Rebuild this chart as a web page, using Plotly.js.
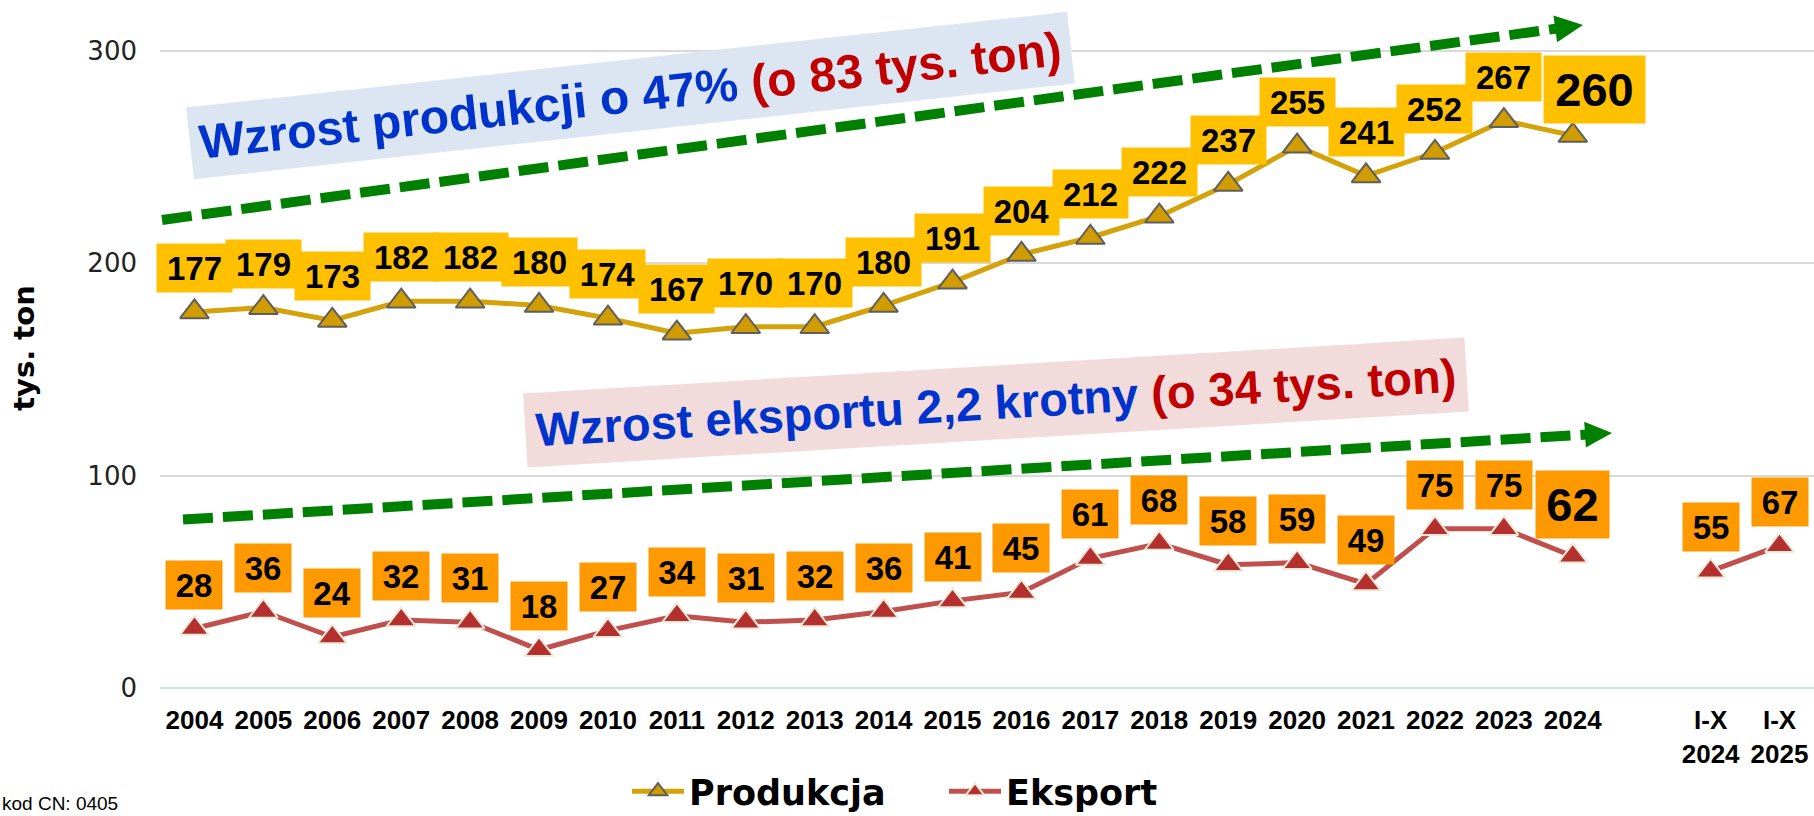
<!DOCTYPE html>
<html><head><meta charset="utf-8">
<script src="https://cdn.plot.ly/plotly-3.0.1.min.js"></script>
<style>html,body{margin:0;padding:0;background:#fff;}#chart{width:1814px;height:816px;}</style>
</head><body><div id="chart"></div>
<script>
// ---- data ----
const categories = ['2004','2005','2006','2007','2008','2009','2010','2011','2012','2013','2014',
  '2015','2016','2017','2018','2019','2020','2021','2022','2023','2024',' ','I-X<br>2024','I-X<br>2025'];
const production = [177,179,173,182,182,180,174,167,170,170,180,191,204,212,222,237,255,241,252,267,260,null,null,null];
const exportVals = [28,36,24,32,31,18,27,34,31,32,36,41,45,61,68,58,59,49,75,75,62,null,55,67];
const seriesNames = ['Produkcja','Eksport'];
const yTicks = [0,100,200,300];
const yTitle = 'tys. ton';
const prodGrowthBlue = 'Wzrost produkcji o 47% ';
const prodGrowthRed = '(o 83 tys. ton)';
const expGrowthBlue = 'Wzrost eksportu 2,2 krotny ';
const expGrowthRed = '(o 34 tys. ton)';
const sourceNote = 'kod CN: 0405';
const highlightCat = '2024';

// ---- geometry / style ----
const FW = 1814, FH = 816;
const M = {l:160, r:0, t:8, b:128, autoexpand:false};
const PW = FW - M.l - M.r, PH = FH - M.t - M.b;
const px = x => (x - M.l) / PW;
const py = y => (FH - M.b - y) / PH;
const LBL = 'Liberation Sans, Arial, sans-serif';
const DJ = 'DejaVu Sans, Verdana, sans-serif';
const BLUE = '#0033CC', RED = '#C00000', GREEN = '#008000';

const hl = categories.indexOf(highlightCat);

const traces = [
  {type:'scatter', mode:'lines+markers', name:seriesNames[0], x:categories, y:production,
   connectgaps:false, cliponaxis:false,
   line:{color:'#D4A20A', width:5},
   marker:{symbol:'triangle-up', size:25, color:'#D09C00', line:{color:'#5E5E5E', width:2}}},
  {type:'scatter', mode:'lines+markers', name:seriesNames[1], x:categories, y:exportVals,
   connectgaps:false, cliponaxis:false,
   line:{color:'#C0504D', width:5},
   marker:{symbol:'triangle-up', size:25, color:'#B3302E', line:{color:'#EEEADA', width:2}}}
];

const annotations = [];
function addLabels(vals, bg, w, wBig, xshiftBig, yshift, yshiftBig){
  vals.forEach((v,i)=>{
    if(v === null) return;
    const big = (i === hl);
    annotations.push({x:i, y:v, xref:'x', yref:'y', text:String(v), showarrow:false,
      xanchor:'center', yanchor:'middle',
      xshift: big ? xshiftBig : 0, yshift: big ? yshiftBig : yshift,
      bgcolor:bg, borderpad:0, width: big ? wBig : w, height: big ? 67 : 48,
      font:{family:LBL, size: big ? 47 : 33, color:'#000', weight:700}});
  });
}
addLabels(production, '#FFC000', 75, 101, 22, 44, 46);
addLabels(exportVals, '#FF9900', 56, 73, 0, 44, 52);

// growth annotations (rotated boxes)
annotations.push({xref:'paper', yref:'paper', x:px(630.5), y:py(95.7), xanchor:'center', yanchor:'middle',
  showarrow:false, textangle:-6.2, bgcolor:'#DCE6F2', borderpad:9,
  text: prodGrowthBlue + '<span style="color:' + RED + '">' + prodGrowthRed + '</span>',
  font:{family:LBL, size:48, color:BLUE, weight:700}});
annotations.push({xref:'paper', yref:'paper', x:px(996), y:py(402.7), xanchor:'center', yanchor:'middle',
  showarrow:false, textangle:-3.4, bgcolor:'#F2DCDB', borderpad:10,
  text: expGrowthBlue + '<span style="color:' + RED + '">' + expGrowthRed + '</span>',
  font:{family:LBL, size:47, color:BLUE, weight:700}});

// source note
annotations.push({xref:'paper', yref:'paper', x:px(0), y:py(803), xanchor:'left', yanchor:'middle',
  showarrow:false, text:sourceNote, font:{family:LBL, size:19, color:'#000'}});

// dashed arrows
const shapes = [];
function arrow(x0,y0,xt,yt,head,half){
  const dx = xt-x0, dy = yt-y0, len = Math.hypot(dx,dy), ux = dx/len, uy = dy/len;
  const bx = xt-ux*head, by = yt-uy*head, nx = -uy, ny = ux;
  shapes.push({type:'line', xref:'paper', yref:'paper', x0:px(x0), y0:py(y0), x1:px(bx+ux*2), y1:py(by+uy*2),
    line:{color:GREEN, width:10, dash:'30px,10px'}});
  shapes.push({type:'path', xref:'paper', yref:'paper', fillcolor:GREEN, line:{width:0},
    path:'M' + px(xt) + ',' + py(yt) + ' L' + px(bx+nx*half) + ',' + py(by+ny*half) +
         ' L' + px(bx-nx*half) + ',' + py(by-ny*half) + ' Z'});
}
arrow(162, 220, 1583, 25, 28, 13.5);
arrow(183, 519.5, 1612, 433, 27, 13);

const layout = {
  width:FW, height:FH, margin:M, paper_bgcolor:'#fff', plot_bgcolor:'#fff',
  showlegend:true,
  legend:{orientation:'h', x:px(627), xanchor:'left', y:py(821), yanchor:'bottom',
    font:{family:DJ, size:35, color:'#000', weight:700}, itemwidth:52, traceorder:'normal',
    entrywidth:250, entrywidthmode:'pixels', bgcolor:'rgba(0,0,0,0)'},
  xaxis:{type:'category', categoryorder:'array', categoryarray:categories, range:[-0.5, categories.length-0.5],
    showgrid:false, zeroline:false, showline:false, ticks:'', ticklabelstandoff:14,
    tickfont:{family:LBL, size:26, color:'#000', weight:700}, fixedrange:true},
  yaxis:{range:[0,320], tickvals:yTicks, ticktext:yTicks.map(String), showgrid:true, gridcolor:'#D9D9D9', gridwidth:2,
    zeroline:true, zerolinecolor:'#D3DDEE', zerolinewidth:2, showline:false, ticks:'', ticklabelstandoff:22,
    tickfont:{family:DJ, size:26, color:'#222'},
    title:{text:yTitle, standoff:44, font:{family:DJ, size:29, color:'#000', weight:700}}, fixedrange:true},
  annotations:annotations, shapes:shapes
};
Plotly.newPlot('chart', traces, layout, {displayModeBar:false, staticPlot:true});
</script></body></html>
